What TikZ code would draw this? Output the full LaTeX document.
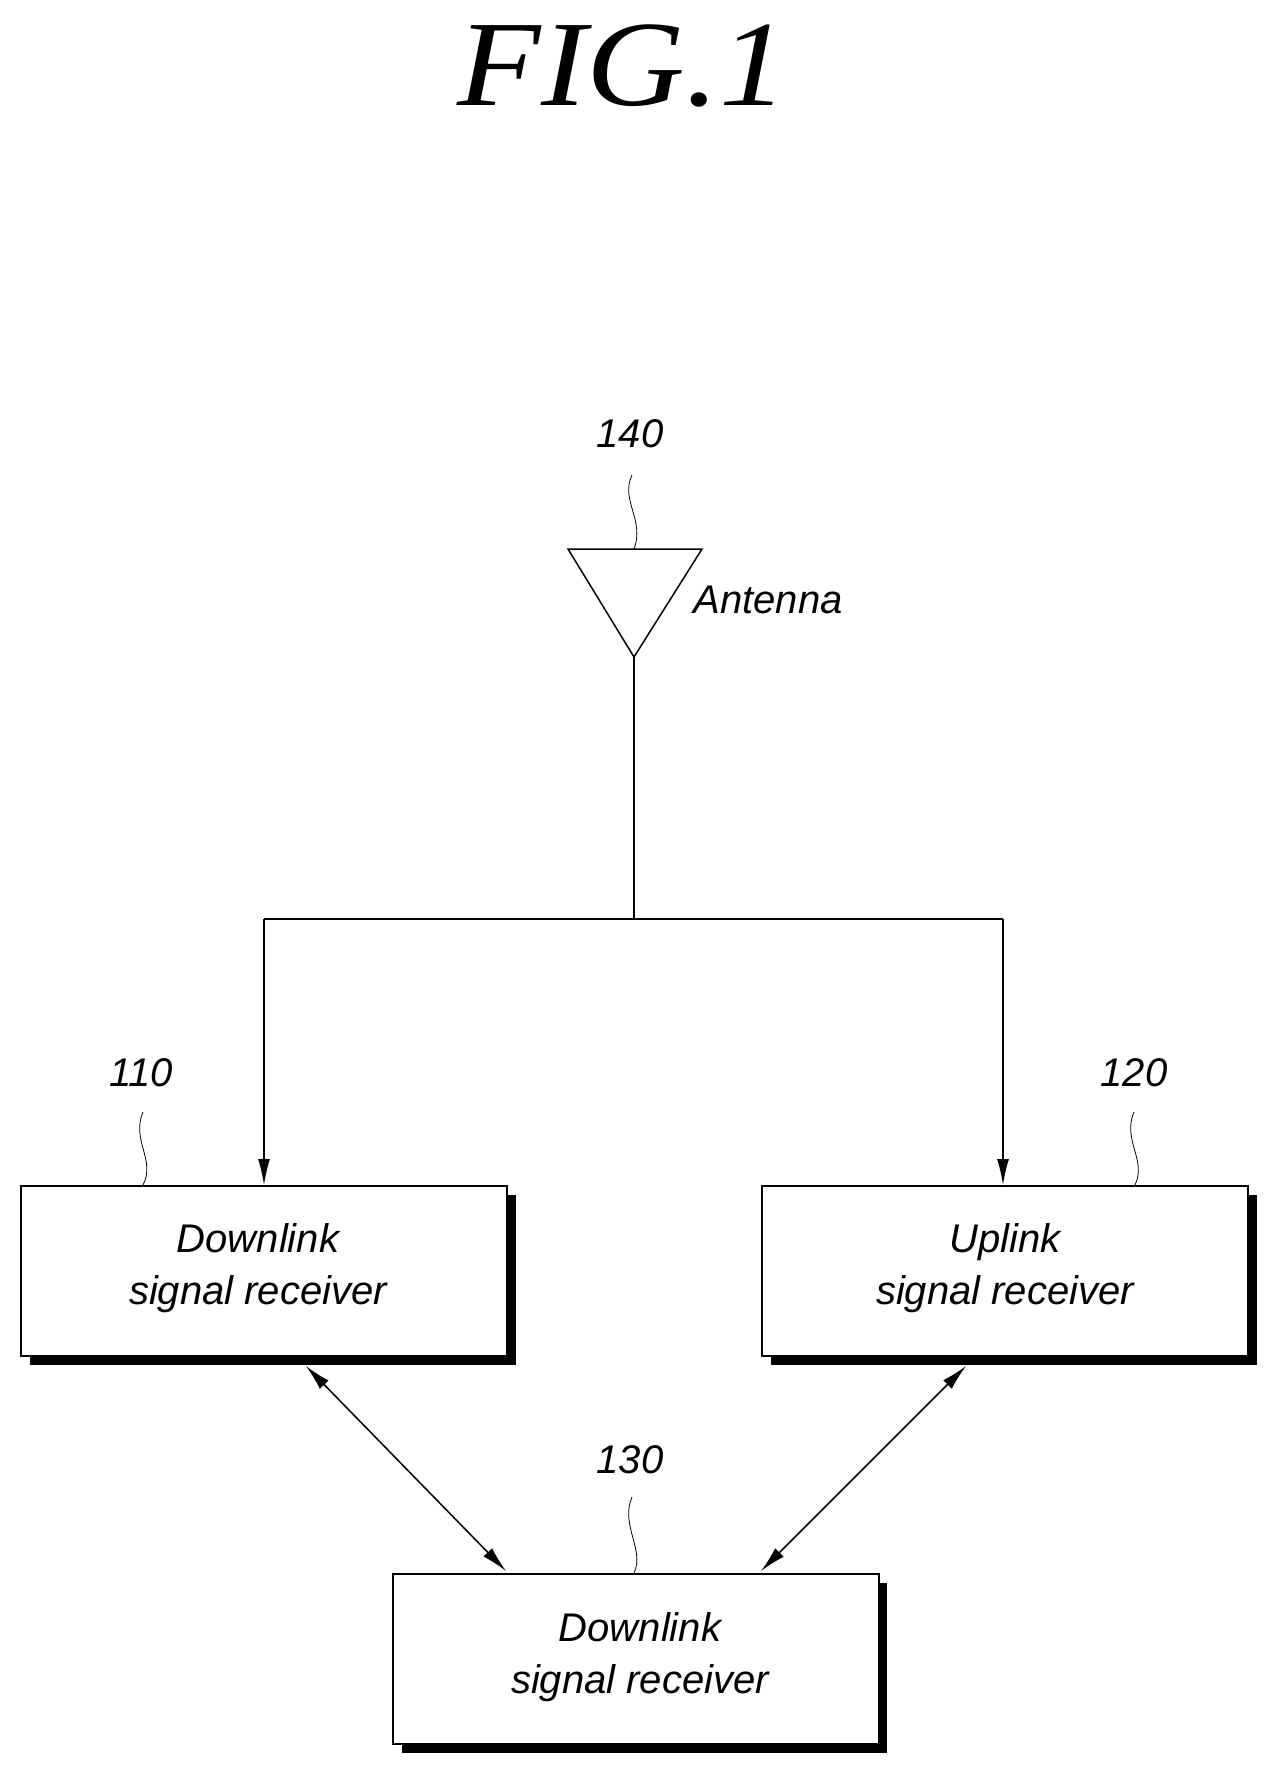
\documentclass[tikz,border=0pt]{standalone}
\usepackage{fontspec}
\setmainfont{Liberation Sans}
\newfontfamily\titlefont{Liberation Serif}
\usetikzlibrary{arrows.meta}
\begin{document}
\begin{tikzpicture}[x=1pt,y=-1pt,
  lbl/.style={font=\fontsize{40}{52}\selectfont\itshape, align=center},
  box/.style={draw, line width=2pt, fill=white, minimum width=486pt, minimum height=170pt, anchor=north west, inner sep=0pt},
  shadow/.style={fill=black},
  wire/.style={line width=1.5pt},
  arr/.style={wire, -{Latex[length=26pt,width=12pt]}},
  darr/.style={wire, {Latex[length=26pt,width=12pt]}-{Latex[length=26pt,width=12pt]}},
  sq/.style={line width=0.8pt}]
\useasboundingbox (0,0) rectangle (1279,1776);
\node (title) at (623,66) {\titlefont\fontsize{122}{130}\selectfont\itshape\scalebox{1.12}[1]{FIG.1}};
% shadows
\fill[shadow] (30,1195) rectangle (516,1365);
\fill[shadow] (771,1195) rectangle (1257,1365);
\fill[shadow] (402,1583) rectangle (887,1753);
\node[box] (b1) at (20,1185) {};
\node[box] (b2) at (761,1185) {};
\node[box] (b3) at (392,1573) {};
\node[lbl] (t1) at (258,1268) {Downlink\\signal receiver};
\node[lbl] (t2) at (1005,1268) {Uplink\\signal receiver};
\node[lbl] (t3) at (640,1657) {Downlink\\signal receiver};
% antenna
\draw[wire] (568,549) -- (702,549) -- (634,657) -- cycle;
\coordinate (ap) at (634,657);
\node[lbl, anchor=west] (ant) at (690,600) {Antenna};
\node[lbl] (n140) at (630,434) {140};
\coordinate (j) at (634,919);
\coordinate (jl) at (264,919);
\coordinate (jr) at (1003,919);
\draw[wire] (ap) -- (j);
\draw[wire] (jl) -- (jr);
\draw[arr] (jl) -- (264,1185);
\draw[arr] (jr) -- (1003,1185);
\draw[darr] (306,1366) -- (506,1571);
\draw[darr] (966,1366) -- (761,1571);
% reference labels
\node[lbl] (n110) at (141,1073) {110};
\node[lbl] (n120) at (1134,1073) {120};
\node[lbl] (n130) at (630,1460) {130};
\draw[sq] (632,475) .. controls (620,500) and (645,520) .. (634,549);
\draw[sq] (143,1112) .. controls (131,1140) and (156,1160) .. (143,1185);
\draw[sq] (1134,1112) .. controls (1122,1140) and (1147,1160) .. (1135,1185);
\draw[sq] (632,1497) .. controls (620,1525) and (645,1550) .. (634,1573);
\end{tikzpicture}
\end{document}
